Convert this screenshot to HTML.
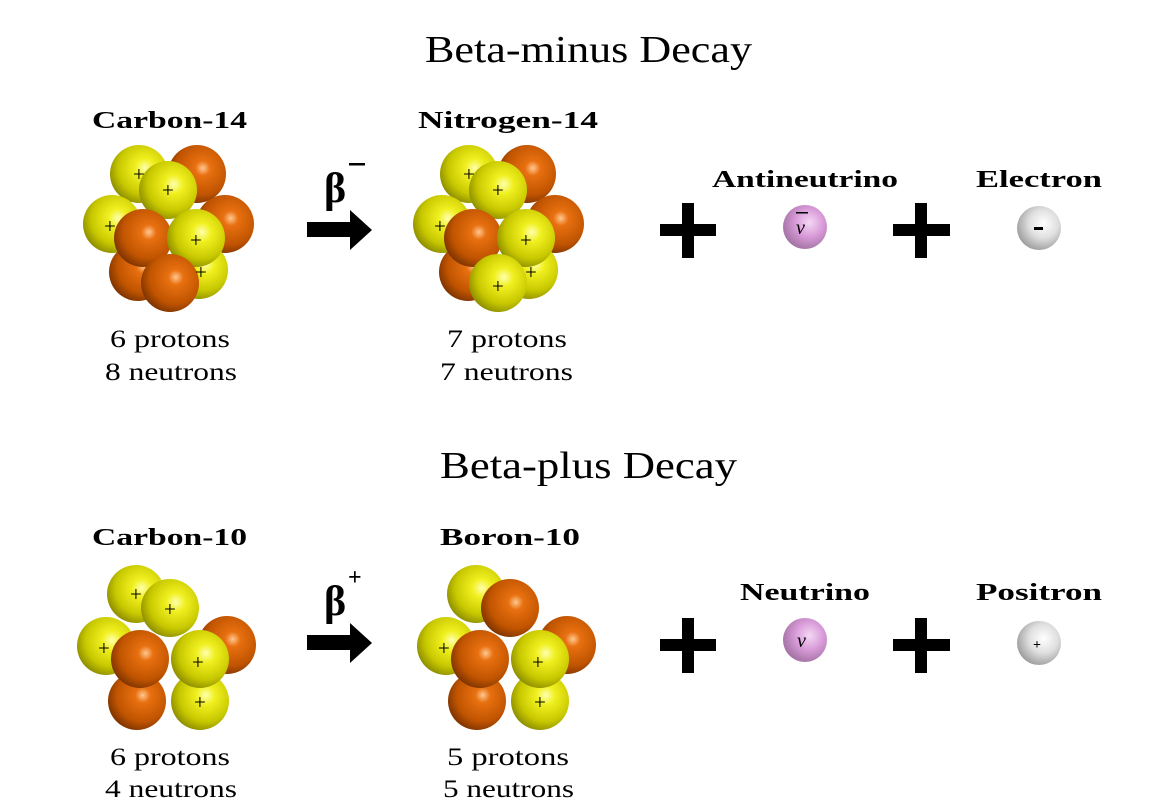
<!DOCTYPE html>
<html><head><meta charset="utf-8"><style>
html,body{margin:0;padding:0;background:#fff;width:1164px;height:810px;overflow:hidden}
svg{display:block}
text{font-family:"Liberation Serif",serif;fill:#000}
.b{font-weight:bold;font-size:24px}
.t{font-size:38px}
.n{font-size:25px}
circle{}
</style></head><body>
<svg width="1164" height="810" viewBox="0 0 1164 810" xmlns="http://www.w3.org/2000/svg">
<defs>
<radialGradient id="y" cx="0.6" cy="0.4" r="0.65"><stop offset="0" stop-color="#ffffb0"/><stop offset="0.25" stop-color="#f0f020"/><stop offset="0.7" stop-color="#c8c800"/><stop offset="1" stop-color="#8a8a00"/></radialGradient>
<radialGradient id="o" cx="0.6" cy="0.4" r="0.65"><stop offset="0" stop-color="#ffc890"/><stop offset="0.2" stop-color="#e87010"/><stop offset="0.7" stop-color="#c05400"/><stop offset="1" stop-color="#7a3200"/></radialGradient>
<radialGradient id="v" cx="0.6" cy="0.4" r="0.65"><stop offset="0" stop-color="#f4d8f4"/><stop offset="0.5" stop-color="#d89ad8"/><stop offset="1" stop-color="#a070a0"/></radialGradient>
<radialGradient id="g" cx="0.6" cy="0.4" r="0.65"><stop offset="0" stop-color="#ffffff"/><stop offset="0.5" stop-color="#e0e0e0"/><stop offset="1" stop-color="#9a9a9a"/></radialGradient>
</defs>

<text class="t" x="425" y="62" textLength="327" lengthAdjust="spacingAndGlyphs">Beta-minus Decay</text>
<text class="t" x="440" y="478" textLength="297" lengthAdjust="spacingAndGlyphs">Beta-plus Decay</text>

<text class="b" x="92" y="128" textLength="155" lengthAdjust="spacingAndGlyphs">Carbon-14</text>
<text class="b" x="418" y="128" textLength="180" lengthAdjust="spacingAndGlyphs">Nitrogen-14</text>
<text class="b" x="712" y="187" textLength="186" lengthAdjust="spacingAndGlyphs">Antineutrino</text>
<text class="b" x="976" y="187" textLength="126" lengthAdjust="spacingAndGlyphs">Electron</text>
<text class="b" x="92" y="545" textLength="155" lengthAdjust="spacingAndGlyphs">Carbon-10</text>
<text class="b" x="440" y="545" textLength="140" lengthAdjust="spacingAndGlyphs">Boron-10</text>
<text class="b" x="740" y="600" textLength="130" lengthAdjust="spacingAndGlyphs">Neutrino</text>
<text class="b" x="976" y="600" textLength="126" lengthAdjust="spacingAndGlyphs">Positron</text>

<text class="n" x="110" y="347" textLength="120" lengthAdjust="spacingAndGlyphs">6 protons</text>
<text class="n" x="105" y="380" textLength="132" lengthAdjust="spacingAndGlyphs">8 neutrons</text>
<text class="n" x="447" y="347" textLength="120" lengthAdjust="spacingAndGlyphs">7 protons</text>
<text class="n" x="440" y="380" textLength="133" lengthAdjust="spacingAndGlyphs">7 neutrons</text>
<text class="n" x="110" y="765" textLength="120" lengthAdjust="spacingAndGlyphs">6 protons</text>
<text class="n" x="105" y="797" textLength="132" lengthAdjust="spacingAndGlyphs">4 neutrons</text>
<text class="n" x="447" y="765" textLength="122" lengthAdjust="spacingAndGlyphs">5 protons</text>
<text class="n" x="443" y="797" textLength="131" lengthAdjust="spacingAndGlyphs">5 neutrons</text>

<text x="324" y="202" style="font-size:42px;font-weight:bold">β</text>
<rect x="349" y="163" width="16" height="2.5"/>
<polygon points="307,222 350,222 350,210 372,230 350,250 350,237 307,237"/>
<text x="324" y="615" style="font-size:42px;font-weight:bold">β</text>
<text x="348" y="585" style="font-size:24px;font-weight:bold">+</text>
<polygon points="307,635 350,635 350,623 372,643 350,663 350,650 307,650"/>

<g>
<rect x="660" y="224" width="56" height="12"/><rect x="682" y="203" width="12" height="55"/>
<rect x="893" y="224" width="57" height="12"/><rect x="915" y="203" width="12" height="55"/>
<rect x="660" y="639" width="56" height="12"/><rect x="682" y="618" width="12" height="55"/>
<rect x="893" y="639" width="57" height="12"/><rect x="915" y="618" width="12" height="55"/>
</g>

<circle cx="805" cy="227" r="22" fill="url(#v)"/>
<text x="796" y="234" style="font-size:20px;font-style:italic">v</text><rect x="796" y="212" width="12" height="1.5"/>
<circle cx="1039" cy="228" r="22" fill="url(#g)"/>
<rect x="1034" y="227" width="9" height="3"/>
<circle cx="805" cy="640" r="22" fill="url(#v)"/>
<text x="797" y="647" style="font-size:20px;font-style:italic">v</text>
<circle cx="1039" cy="643" r="22" fill="url(#g)"/>
<text x="1033" y="649" style="font-size:14px;font-weight:bold">+</text>

<g font-family="Liberation Sans" font-size="21">
<circle cx="139" cy="174" r="29" fill="url(#y)"/>
<circle cx="197" cy="174" r="29" fill="url(#o)"/>
<circle cx="225" cy="224" r="29" fill="url(#o)"/>
<circle cx="112" cy="224" r="29" fill="url(#y)"/>
<circle cx="138" cy="272" r="29" fill="url(#o)"/>
<circle cx="199" cy="270" r="29" fill="url(#y)"/>
<circle cx="168" cy="190" r="29" fill="url(#y)"/>
<circle cx="143" cy="238" r="29" fill="url(#o)"/>
<circle cx="196" cy="238" r="29" fill="url(#y)"/>
<circle cx="170" cy="283" r="29" fill="url(#o)"/>
<text x="133" y="181">+</text><text x="162" y="197">+</text>
<text x="104" y="233">+</text><text x="190" y="247">+</text>
<text x="195" y="279">+</text>
</g>
<g transform="translate(330,0)" font-family="Liberation Sans" font-size="21">
<circle cx="139" cy="174" r="29" fill="url(#y)"/>
<circle cx="197" cy="174" r="29" fill="url(#o)"/>
<circle cx="225" cy="224" r="29" fill="url(#o)"/>
<circle cx="112" cy="224" r="29" fill="url(#y)"/>
<circle cx="138" cy="272" r="29" fill="url(#o)"/>
<circle cx="199" cy="270" r="29" fill="url(#y)"/>
<circle cx="168" cy="190" r="29" fill="url(#y)"/>
<circle cx="143" cy="238" r="29" fill="url(#o)"/>
<circle cx="196" cy="238" r="29" fill="url(#y)"/>
<circle cx="168" cy="283" r="29" fill="url(#y)"/>
<text x="133" y="181">+</text><text x="162" y="197">+</text>
<text x="104" y="233">+</text><text x="190" y="247">+</text>
<text x="195" y="279">+</text><text x="162" y="293">+</text>
</g>
<g font-family="Liberation Sans" font-size="21">
<circle cx="136" cy="594" r="29" fill="url(#y)"/>
<circle cx="106" cy="646" r="29" fill="url(#y)"/>
<circle cx="227" cy="645" r="29" fill="url(#o)"/>
<circle cx="137" cy="701" r="29" fill="url(#o)"/>
<circle cx="200" cy="701" r="29" fill="url(#y)"/>
<circle cx="170" cy="608" r="29" fill="url(#y)"/>
<circle cx="140" cy="659" r="29" fill="url(#o)"/>
<circle cx="200" cy="659" r="29" fill="url(#y)"/>
<text x="130" y="601">+</text><text x="164" y="616">+</text>
<text x="98" y="655">+</text><text x="192" y="669">+</text>
<text x="194" y="709">+</text>
</g>
<g transform="translate(340,0)" font-family="Liberation Sans" font-size="21">
<circle cx="136" cy="594" r="29" fill="url(#y)"/>
<circle cx="106" cy="646" r="29" fill="url(#y)"/>
<circle cx="227" cy="645" r="29" fill="url(#o)"/>
<circle cx="137" cy="701" r="29" fill="url(#o)"/>
<circle cx="200" cy="701" r="29" fill="url(#y)"/>
<circle cx="170" cy="608" r="29" fill="url(#o)"/>
<circle cx="140" cy="659" r="29" fill="url(#o)"/>
<circle cx="200" cy="659" r="29" fill="url(#y)"/>
<text x="98" y="655">+</text><text x="192" y="669">+</text>
<text x="194" y="709">+</text>
</g>
</svg>
</body></html>
